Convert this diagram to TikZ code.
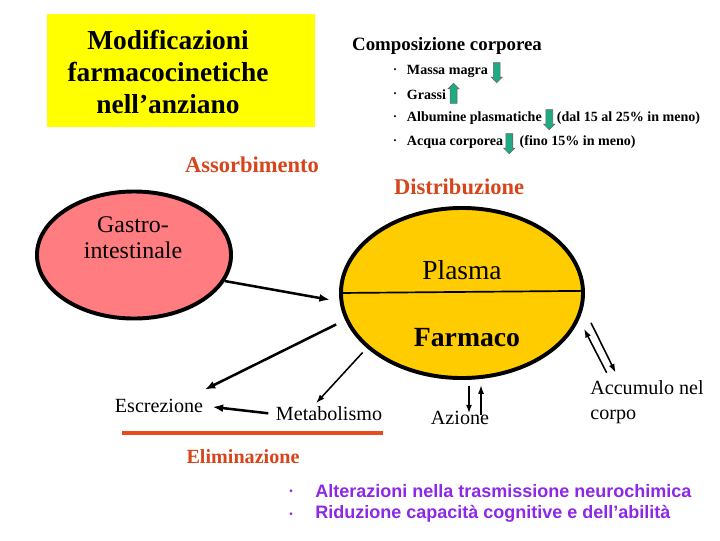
\documentclass[tikz,border=0pt]{standalone}
\usepackage{fontspec}
\setmainfont{Liberation Serif}
\newfontfamily\arialfont{Liberation Sans}
\usetikzlibrary{arrows.meta, positioning, shapes.geometric, shapes.arrows, calc}
\definecolor{titleyellow}{RGB}{255,255,0}
\definecolor{gastropink}{RGB}{255,124,128}
\definecolor{plasmagold}{RGB}{255,204,0}
\definecolor{phaseorange}{RGB}{214,69,27}
\definecolor{elimred}{RGB}{232,74,30}
\definecolor{neuropurple}{RGB}{140,40,230}
\definecolor{arrowgreen}{RGB}{30,170,130}

\begin{document}
\begin{tikzpicture}[x=0.025cm, y=-0.025cm,
    compart/.style={ellipse, draw, line width=2.8pt},
    phase/.style={text=phaseorange, font=\fontsize{#1}{#1}\selectfont\bfseries},
    label/.style={font=\fontsize{14.3}{17.8}\selectfont, inner sep=1pt},
    item/.style={font=\fontsize{10}{12}\selectfont\bfseries, inner sep=0.5pt, anchor=west},
    dot/.style={font=\fontsize{6}{6}\selectfont, inner sep=0pt},
    neuro/.style={text=neuropurple, font=\arialfont\fontsize{12.8}{15}\selectfont\bfseries, inner sep=0pt},
    garrow/.style={single arrow, draw=black!60, fill=arrowgreen, minimum height=0.5cm, minimum width=0.28cm, single arrow head extend=0.5pt, inner sep=0.6pt},
    arr/.style={-{Latex[length=2.6mm, width=2mm]}, line width=1.8pt},
    thinarr/.style={-{Latex[length=2.2mm, width=1.5mm]}, line width=1.1pt}
]
    \useasboundingbox (0,0) rectangle (720,540);

    % Title box
    \node[fill=titleyellow, minimum width=6.7cm, minimum height=2.825cm] (titlebox) at (181,70.5) {};
    \node[align=center, font=\fontsize{19.5}{22.8}\selectfont\bfseries] (title) at (168,72) {Modificazioni\\farmacocinetiche\\nell’anziano};

    % Body composition
    \node[font=\fontsize{13.4}{16}\selectfont\bfseries] (compos) at (447,46) {Composizione corporea};
    \node[item] (massa) at (406,71) {Massa magra};
    \node[garrow, shape border rotate=270, right=3pt of massa] (massadn) {};
    \node[item] (grassi) at (406,95) {Grassi};
    \node[garrow, shape border rotate=90, right=2pt of grassi] (grassiup) {};
    \node[item] (albu) at (406,118) {Albumine plasmatiche};
    \node[garrow, shape border rotate=270, right=2pt of albu] (albudn) {};
    \node[item, right=2pt of albudn] (albunote) {(dal 15 al 25\% in meno)};
    \node[item] (acqua) at (406,142) {Acqua corporea};
    \node[garrow, shape border rotate=270, right=1pt of acqua] (acquadn) {};
    \node[item, right=4pt of acquadn] (acquanote) {(fino 15\% in meno)};
    \foreach \y in {71,95,118,142}
        \node[dot] (dot\y) at (395,\y) {\textbullet};

    % Phases
    \node[phase=16] (assorb) at (252,165) {Assorbimento};
    \node[phase=16] (distrib) at (459,187) {Distribuzione};

    % Compartments
    \node[compart, fill=gastropink, minimum width=4.85cm, minimum height=3.175cm] (gastro) at (134,255) {};
    \node[align=center, font=\fontsize{17}{18.5}\selectfont] (gastrotext) at (133,238) {Gastro-\\intestinale};
    \node[compart, fill=plasmagold, minimum width=6.05cm, minimum height=4.25cm] (farmaco) at (462,293) {};
    \draw[line width=1.2pt] (farmaco.180) -- (farmaco.1);
    \node[font=\fontsize{19.5}{22}\selectfont] (plasma) at (462,270) {Plasma};
    \node[font=\fontsize{19.7}{22}\selectfont\bfseries] (farmtext) at (467,338) {Farmaco};

    % Outcomes
    \node[label] (escr) at (159,406) {Escrezione};
    \node[label] (metab) at (329,414) {Metabolismo};
    \node[label] (azione) at (460,418) {Azione};
    \node[label, align=left] (accum) at (647,402) {Accumulo nel\\corpo};

    % Elimination
    \coordinate (elimL) at (122,433);
    \coordinate (elimR) at (383,433);
    \draw[elimred, line width=2.5pt] (elimL) -- (elimR);
    \node[phase=14.3] (elim) at (243,457) {Eliminazione};

    % Arrows
    \draw[arr, shorten >=0.25cm] (gastro.-16) -- (farmaco.184);
    \draw[arr, shorten <=0.25cm] (farmaco.193) -- ($(escr.north east)+(0,-8)$);
    \draw[thinarr, shorten <=0.15cm] (farmaco.-150) -- ($(metab.north)+(-13,-2)$);
    \draw[arr, shorten <=0.15cm, shorten >=0.2cm] (metab.west) -- (escr.east);
    \draw[thinarr, line width=1.5pt] ($(farmaco.south)+(7,6)$) -- ($(azione.north)+(9,4)$);
    \draw[thinarr] ($(azione.north)+(21,5)$) -- ($(farmaco.south)+(19,5)$);
    \draw[thinarr] ($(farmaco.-15)+(14,-1)$) -- ($(accum.north west)+(27,-6)$);
    \draw[thinarr] ($(accum.north west)+(18,-6)$) -- ($(farmaco.-15)+(7,5)$);

    % Effects
    \node[neuro, anchor=west] (neuro1) at (315,491) {Alterazioni nella trasmissione neurochimica};
    \node[neuro, anchor=west] (neuro2) at (315,514) {Riduzione capacità cognitive e dell’abilità};
    \node[neuro, font=\arialfont\fontsize{7}{7}\selectfont] (ndot1) at (291,492) {\textbullet};
    \node[neuro, font=\arialfont\fontsize{7}{7}\selectfont] (ndot2) at (291,515) {\textbullet};
\end{tikzpicture}
\end{document}
